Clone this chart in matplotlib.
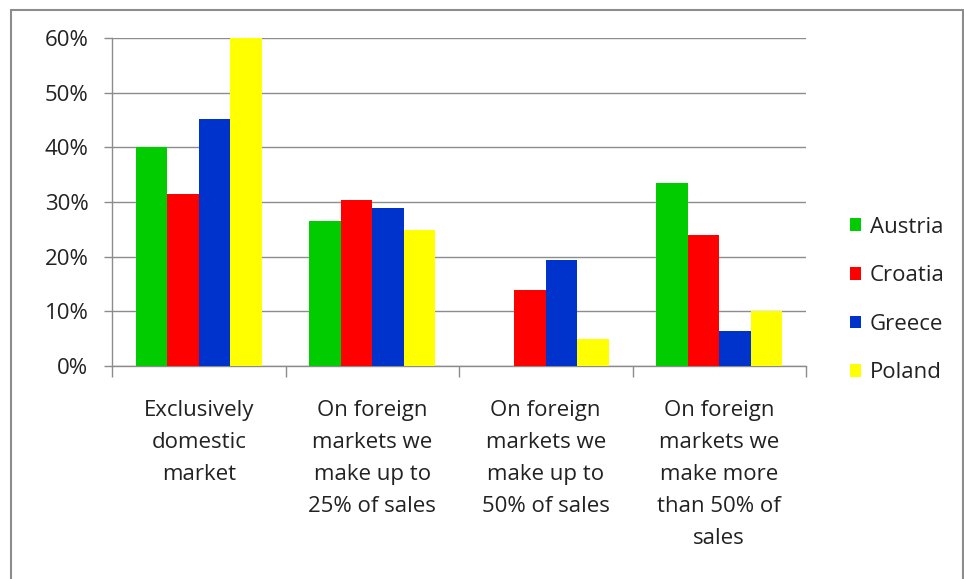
import matplotlib
matplotlib.use("Agg")
import matplotlib.pyplot as plt
from matplotlib.patches import Rectangle
import numpy as np

categories = ["Exclusively\ndomestic\nmarket",
              "On foreign\nmarkets we\nmake up to\n25% of sales",
              "On foreign\nmarkets we\nmake up to\n50% of sales",
              "On foreign\nmarkets we\nmake more\nthan 50% of\nsales"]
series_names = ["Austria", "Croatia", "Greece", "Poland"]
austria = [40.0, 26.6, 0.0, 33.4]
croatia = [31.5, 30.3, 13.9, 24.0]
greece = [45.1, 28.9, 19.3, 6.4]
poland = [60.0, 24.9, 4.9, 10.1]
colors = ["#00CC00", "#FF0000", "#0033CC", "#FFFF00"]
yticks = [0, 10, 20, 30, 40, 50, 60]

plt.rcParams['font.family'] = ['Open Sans', 'DejaVu Sans']
FS = 16

fig = plt.figure(figsize=(9.64, 5.79), dpi=100)
# outer frame
fig.patches.append(Rectangle((11/964, -0.01), (963-11)/964, (579-10)/579 + 0.01,
                             transform=fig.transFigure, fill=False,
                             edgecolor="#8c8c8c", linewidth=1.5))

ax = fig.add_axes([112/964, (579-366)/579, (806-112)/964, (366-38)/579])

data = [austria, croatia, greece, poland]
n = len(categories)
w = 1/5.5
x = np.arange(n)
for i, (vals, c, name) in enumerate(zip(data, colors, series_names)):
    ax.bar(x + (i - 1.5) * w, vals, width=w, color=c, label=name, zorder=3, linewidth=0)

ax.set_xlim(-0.5, n - 0.5)
ax.set_ylim(0, 60)
ax.set_yticks(yticks)
ax.set_yticklabels([f"{v}%" for v in yticks], fontsize=FS, color="#222222")
ax.yaxis.grid(True, color="#8c8c8c", linewidth=1, zorder=0)
ax.tick_params(axis='y', length=6, color="#8c8c8c", width=1, pad=11)

ax.set_xticks(np.arange(n + 1) - 0.5)
ax.set_xticklabels([])
ax.tick_params(axis='x', which='major', length=8, color="#8c8c8c", width=1)
ax.set_xticks(x, minor=True)
ax.set_xticklabels(categories, minor=True, fontsize=FS, color="#222222", linespacing=1.68)
ax.tick_params(axis='x', which='minor', length=0, pad=24.5)

for s in ['top', 'right']:
    ax.spines[s].set_visible(False)
for s in ['left', 'bottom']:
    ax.spines[s].set_color("#8c8c8c")
    ax.spines[s].set_linewidth(1)

leg = fig.legend(loc='center left', bbox_to_anchor=(850/964, (579-300)/579),
                 frameon=False, fontsize=FS, handlelength=0.5, handleheight=0.5,
                 labelspacing=1.24, handletextpad=0.4, borderpad=0, borderaxespad=0)
for t in leg.get_texts():
    t.set_color("#222222")

fig.savefig("out.png", dpi=100)
